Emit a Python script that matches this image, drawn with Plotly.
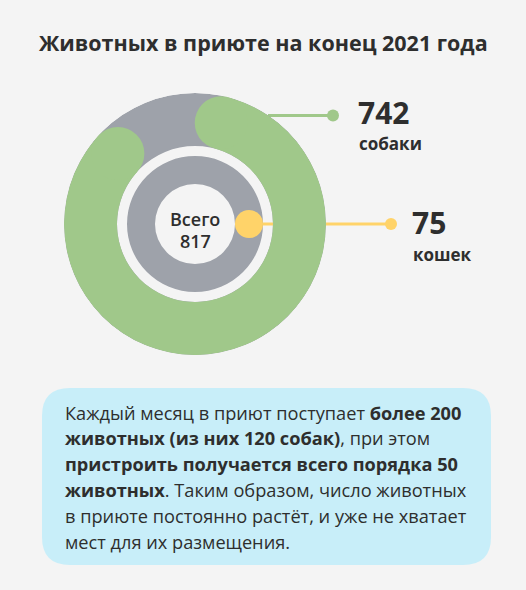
import plotly.graph_objects as go

# ---------------- data ----------------
title_text = "Животных в приюте на конец 2021 года"
categories = ["собаки", "кошек"]
values = [742, 75]
total = sum(values)  # 817
center_label = "Всего"
body_lines = [
    "Каждый месяц в приют поступает <b>более 200</b>",
    "<b>животных (из них 120 собак)</b>, при этом",
    "<b>пристроить получается всего порядка 50</b>",
    "<b>животных</b>. Таким образом, число животных",
    "в приюте постоянно растёт, и уже не хватает",
    "мест для их размещения.",
]

# ---------------- style ----------------
W, H = 526, 590
BG = "#f4f4f4"
GREEN = "#a0c88a"
GREY = "#9ea2aa"
YELLOW = "#ffd369"
BOX = "#c8eef9"
TXT = "#2e2e2e"
FONT = "Open Sans"

CX, CY = 195, 224          # ring centre (px)
R_MAX = 131                # outer radius (px)
OUT_IN, OUT_OUT = 78, 131  # outer ring radii
IN_IN, IN_OUT = 40, 68     # inner ring radii


def px(x):
    return x / W


def py(y):
    return 1 - y / H


fig = go.Figure()

# outer ring (dogs)
out_th = OUT_OUT - OUT_IN
out_mid = (OUT_IN + OUT_OUT) / 2
fig.add_trace(go.Barpolar(r=[out_th], base=[OUT_IN], theta=[180], width=[360],
                          marker=dict(color=GREY, line=dict(width=0)),
                          hoverinfo="skip", showlegend=False))
span = values[0] / total * 360
cap = (out_th / 2) / out_mid * 180 / 3.14159265
a0, a1 = cap, span - cap
fig.add_trace(go.Barpolar(r=[out_th], base=[OUT_IN], theta=[(a0 + a1) / 2], width=[a1 - a0],
                          marker=dict(color=GREEN, line=dict(width=0)),
                          hoverinfo="skip", showlegend=False))
fig.add_trace(go.Scatterpolar(r=[out_mid, out_mid], theta=[a0, a1], mode="markers",
                              marker=dict(color=GREEN, size=out_th, line=dict(width=0)),
                              hoverinfo="skip", showlegend=False))

# inner ring (cats)
in_th = IN_OUT - IN_IN
in_mid = (IN_IN + IN_OUT) / 2
fig.add_trace(go.Barpolar(r=[in_th], base=[IN_IN], theta=[180], width=[360],
                          marker=dict(color=GREY, line=dict(width=0)),
                          hoverinfo="skip", showlegend=False))
fig.add_trace(go.Scatterpolar(r=[in_mid], theta=[90], mode="markers",
                              marker=dict(color=YELLOW, size=in_th, line=dict(width=0)),
                              hoverinfo="skip", showlegend=False))

fig.update_layout(
    width=W, height=H,
    margin=dict(l=0, r=0, t=0, b=0),
    paper_bgcolor=BG, plot_bgcolor=BG,
    polar=dict(
        domain=dict(x=[px(CX - R_MAX), px(CX + R_MAX)], y=[py(CY + R_MAX), py(CY - R_MAX)]),
        bgcolor="rgba(0,0,0,0)",
        radialaxis=dict(range=[0, R_MAX], visible=False),
        angularaxis=dict(rotation=90, direction="clockwise", visible=False),
        hole=0,
    ),
)

shapes = []
# leader lines and dots
shapes.append(dict(type="line", xref="paper", yref="paper", x0=px(268), x1=px(333),
                   y0=py(115.5), y1=py(115.5), line=dict(color=GREEN, width=3), layer="below"))
shapes.append(dict(type="circle", xref="paper", yref="paper", x0=px(327), x1=px(339),
                   y0=py(109.5), y1=py(121.5), fillcolor=GREEN, line=dict(width=0), layer="below"))
shapes.append(dict(type="line", xref="paper", yref="paper", x0=px(250), x1=px(391),
                   y0=py(CY), y1=py(CY), line=dict(color=YELLOW, width=3), layer="below"))
shapes.append(dict(type="circle", xref="paper", yref="paper", x0=px(385), x1=px(397),
                   y0=py(CY - 6), y1=py(CY + 6), fillcolor=YELLOW, line=dict(width=0), layer="below"))

# rounded box
bx0, bx1, by0, by1, rr = 42, 491, 388, 565, 28
path = (f"M {px(bx0 + rr)},{py(by0)} L {px(bx1 - rr)},{py(by0)} "
        f"Q {px(bx1)},{py(by0)} {px(bx1)},{py(by0 + rr)} "
        f"L {px(bx1)},{py(by1 - rr)} Q {px(bx1)},{py(by1)} {px(bx1 - rr)},{py(by1)} "
        f"L {px(bx0 + rr)},{py(by1)} Q {px(bx0)},{py(by1)} {px(bx0)},{py(by1 - rr)} "
        f"L {px(bx0)},{py(by0 + rr)} Q {px(bx0)},{py(by0)} {px(bx0 + rr)},{py(by0)} Z")
shapes.append(dict(type="path", xref="paper", yref="paper", path=path,
                   fillcolor=BOX, line=dict(width=0), layer="below"))
fig.update_layout(shapes=shapes)

ann = []


def add(text, x, y, size, xanchor="left", bold=False, color=TXT, weight=None):
    f = dict(family=FONT, size=size, color=color)
    if weight:
        f["weight"] = weight
    ann.append(dict(text=(f"<b>{text}</b>" if bold else text), x=px(x), y=py(y),
                    xref="paper", yref="paper", xanchor=xanchor, yanchor="middle",
                    showarrow=False, font=f))


add(title_text, 263, 43, 21.5, xanchor="center", bold=True)
add(str(values[0]), 356, 112, 30, bold=True)
add(categories[0], 357, 143, 17, bold=True)
add(str(values[1]), 410, 223, 30, bold=True)
add(categories[1], 411, 255, 17, bold=True)
add(center_label, CX, 219, 18, xanchor="center", weight=600)
add(str(total), CX, 241, 18, xanchor="center", weight=600)

line_y0, line_dy = 412.5, 25.8
for i, t in enumerate(body_lines):
    add(t, 63, line_y0 + i * line_dy, 18.2)

fig.update_layout(annotations=ann)
fig.write_html("out.html", config={"displayModeBar": False},
               post_script="document.body.style.margin='0';document.body.style.background='#f4f4f4';")
